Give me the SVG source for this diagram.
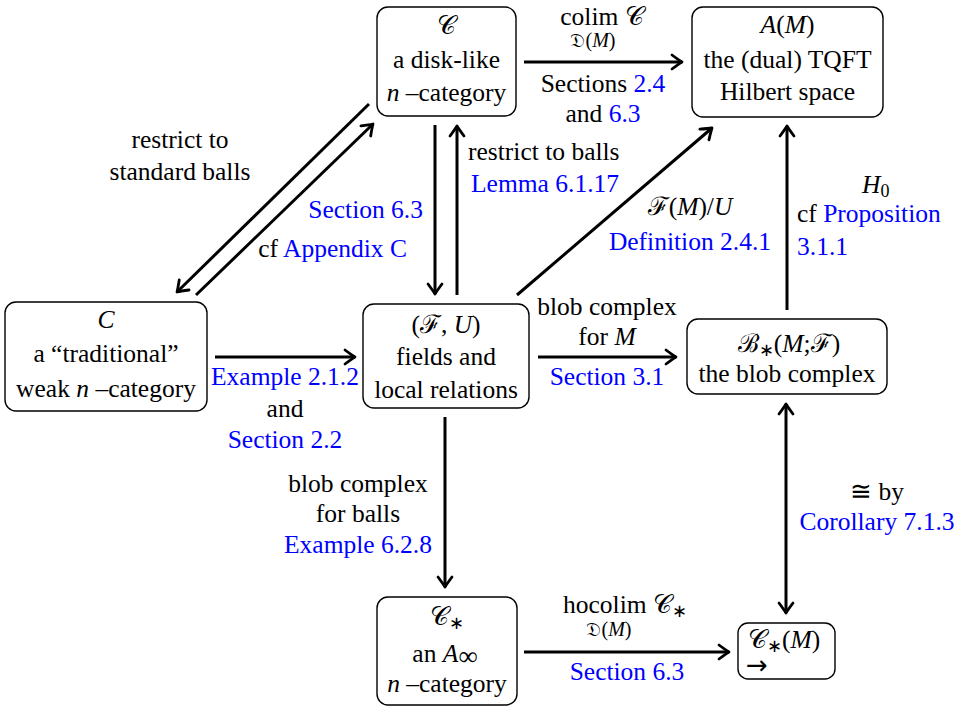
<svg xmlns="http://www.w3.org/2000/svg" width="967" height="706" viewBox="0 0 967 706">
<style>
text{font-family:"Liberation Serif","Times New Roman",serif;font-size:25.5px;fill:#000}
.c{text-anchor:middle}
.e{text-anchor:end}
.i{font-style:italic}
.b{fill:#0000ff}
.s{font-size:18px}
.sub{font-size:20px}
.node rect{fill:#fff;stroke:#000;stroke-width:1.4}
#edges line{stroke:#000;stroke-width:3;fill:none}
</style>
<defs>
<marker id="ah" viewBox="-12 -9 14 18" markerWidth="14" markerHeight="18" refX="0" refY="0" orient="auto-start-reverse" markerUnits="userSpaceOnUse">
<path d="M-10,-7 Q-3,-1.8 0,0 Q-3,1.8 -10,7" fill="none" stroke="#000" stroke-width="2.8" stroke-linecap="round" stroke-linejoin="round"/>
</marker>
</defs>

<g id="edges">
<line x1="524" y1="62" x2="682" y2="62" marker-end="url(#ah)"/>
<line x1="369" y1="104" x2="177" y2="292" marker-end="url(#ah)"/>
<line x1="196" y1="295" x2="373" y2="124" marker-end="url(#ah)"/>
<line x1="435" y1="125" x2="435" y2="294" marker-end="url(#ah)"/>
<line x1="457" y1="295" x2="457" y2="126" marker-end="url(#ah)"/>
<line x1="517" y1="295" x2="712" y2="128" marker-end="url(#ah)"/>
<line x1="787" y1="310" x2="787" y2="126" marker-end="url(#ah)"/>
<line x1="215" y1="357" x2="355" y2="357" marker-end="url(#ah)"/>
<line x1="538" y1="357" x2="676" y2="357" marker-end="url(#ah)"/>
<line x1="445" y1="417" x2="445" y2="587" marker-end="url(#ah)"/>
<line x1="786" y1="404" x2="786" y2="613" marker-start="url(#ah)" marker-end="url(#ah)"/>
<line x1="524" y1="652" x2="729" y2="652" marker-end="url(#ah)"/>
</g>

<g id="edge-labels">
<text x="602" y="25" class="c">colim <tspan>𝒞</tspan></text>
<text x="593" y="47" class="c sub">𝔇(<tspan class="i">M</tspan>)</text>
<text x="603" y="92" class="c">Sections <tspan class="b">2.4</tspan></text>
<text x="603" y="122" class="c">and <tspan class="b">6.3</tspan></text>

<text x="180" y="148" class="c">restrict to</text>
<text x="180" y="180" class="c">standard balls</text>
<text x="423" y="218" class="e b">Section 6.3</text>
<text x="407" y="257" class="e">cf <tspan class="b">Appendix C</tspan></text>

<text x="468" y="160">restrict to balls</text>
<text x="471" y="192" class="b">Lemma 6.1.17</text>

<text x="690" y="215" class="c">ℱ(<tspan class="i">M</tspan>)/<tspan class="i">U</tspan></text>
<text x="690" y="250" class="c b">Definition 2.4.1</text>

<text x="862" y="193"><tspan class="i">H</tspan><tspan class="s" dy="4">0</tspan></text>
<text x="797" y="222">cf <tspan class="b">Proposition</tspan></text>
<text x="797" y="255" class="b">3.1.1</text>

<text x="285" y="385" class="c b">Example 2.1.2</text>
<text x="285" y="417" class="c">and</text>
<text x="285" y="448" class="c b">Section 2.2</text>

<text x="607" y="315" class="c">blob complex</text>
<text x="607" y="345" class="c">for <tspan class="i">M</tspan></text>
<text x="607" y="385" class="c b">Section 3.1</text>

<text x="358" y="492" class="c">blob complex</text>
<text x="358" y="522" class="c">for balls</text>
<text x="358" y="553" class="c b">Example 6.2.8</text>

<text x="877" y="500" class="c">≅ by</text>
<text x="877" y="530" class="c b">Corollary 7.1.3</text>

<text x="625" y="613" class="c">hocolim <tspan>𝒞</tspan><tspan class="s" dy="4">∗</tspan></text>
<text x="609" y="636" class="c sub">𝔇(<tspan class="i">M</tspan>)</text>
<text x="627" y="680" class="c b">Section 6.3</text>
</g>

<g id="n-disk" class="node">
<rect x="377" y="7" width="139" height="109" rx="11"/>
<text x="446.5" y="34" class="c">𝒞</text>
<text x="446.5" y="68" class="c">a disk-like</text>
<text x="446.5" y="101" class="c"><tspan class="i">n</tspan> –category</text>
</g>

<g id="n-tqft" class="node">
<rect x="692" y="7" width="191" height="110" rx="11"/>
<text x="787.5" y="33" class="c"><tspan class="i">A</tspan>(<tspan class="i">M</tspan>)</text>
<text x="787.5" y="68" class="c">the (dual) TQFT</text>
<text x="787.5" y="100" class="c">Hilbert space</text>
</g>

<g id="n-trad" class="node">
<rect x="5" y="302" width="202" height="109" rx="11"/>
<text x="106" y="328" class="c i">C</text>
<text x="106" y="362" class="c">a “traditional”</text>
<text x="106" y="397" class="c">weak <tspan class="i">n</tspan> –category</text>
</g>

<g id="n-fields" class="node">
<rect x="363" y="304" width="166" height="104" rx="11"/>
<text x="446" y="333" class="c">(ℱ, <tspan class="i">U</tspan>)</text>
<text x="446" y="365" class="c">fields and</text>
<text x="446" y="398" class="c">local relations</text>
</g>

<g id="n-blob" class="node">
<rect x="687" y="319" width="200" height="75" rx="11"/>
<text x="789" y="352" class="c">ℬ<tspan class="s" dy="4">∗</tspan><tspan dy="-4">(</tspan><tspan class="i">M</tspan>;ℱ)</text>
<text x="787" y="382" class="c">the blob complex</text>
</g>

<g id="n-ainf" class="node">
<rect x="377" y="597" width="140" height="108" rx="11"/>
<text x="447" y="625" class="c">𝒞<tspan class="s" dy="4">∗</tspan></text>
<text x="445" y="662" class="c">an <tspan class="i">A</tspan><tspan style="font-size:27px" dy="3">∞</tspan></text>
<text x="447" y="692" class="c"><tspan class="i">n</tspan> –category</text>
</g>

<g id="n-cstar" class="node">
<rect x="738" y="623" width="97" height="56" rx="10"/>
<text x="748" y="648">𝒞<tspan class="s" dy="4">∗</tspan><tspan dy="-4">(</tspan><tspan class="i">M</tspan>)</text>
<text x="746" y="674" style="font-family:'DejaVu Sans',sans-serif;font-size:26px">→</text>
</g>
</svg>
